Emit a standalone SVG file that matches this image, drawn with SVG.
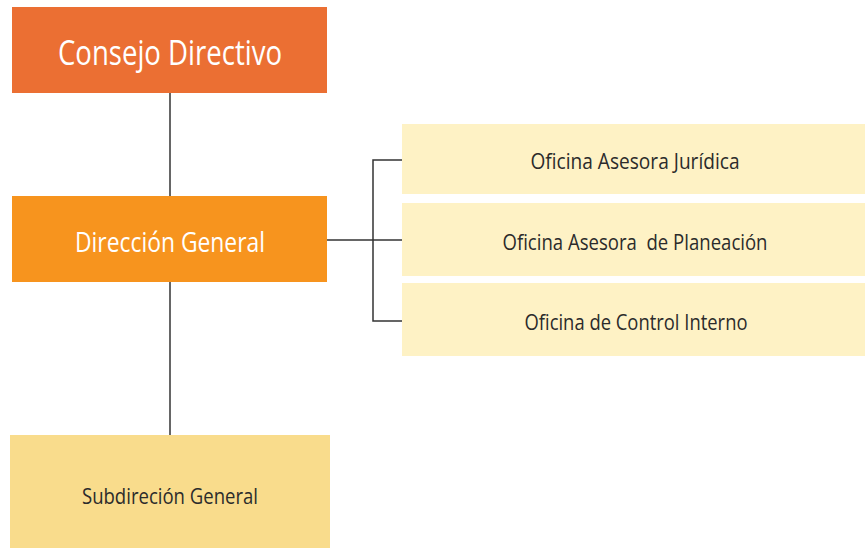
<svg xmlns="http://www.w3.org/2000/svg" width="865" height="548" viewBox="0 0 865 548">
<style>
.lbl{font-family:"Open Sans","Liberation Sans",sans-serif;text-anchor:middle}
.w{fill:#ffffff}
.d{fill:#2b2b2b}
.ln{stroke:#333333;stroke-width:1.5;fill:none}
</style>
<rect width="865" height="548" fill="#ffffff"/>
<g id="connectors">
<line class="ln" x1="170" y1="93" x2="170" y2="196"/>
<line class="ln" x1="170" y1="282" x2="170" y2="435"/>
<line class="ln" x1="327" y1="240" x2="402" y2="240"/>
<polyline class="ln" points="402,160 373,160 373,321 402,321"/>
</g>
<g id="consejo">
<rect x="12" y="7" width="315" height="86" fill="#EB6F33"/>
<text class="lbl w" x="170" y="65" font-size="35" textLength="224" lengthAdjust="spacingAndGlyphs">Consejo Directivo</text>
</g>
<g id="direccion">
<rect x="12" y="196" width="315" height="86" fill="#F7941E"/>
<text class="lbl w" x="170" y="252" font-size="28" textLength="190" lengthAdjust="spacingAndGlyphs">Dirección General</text>
</g>
<g id="juridica">
<rect x="402" y="124" width="463" height="70" fill="#FEF2C5"/>
<text class="lbl d" x="635" y="169" font-size="21" textLength="209" lengthAdjust="spacingAndGlyphs">Oficina Asesora Jurídica</text>
</g>
<g id="planeacion">
<rect x="402" y="203" width="463" height="73" fill="#FEF2C5"/>
<text class="lbl d" x="635" y="250" font-size="21" textLength="265" lengthAdjust="spacingAndGlyphs" xml:space="preserve">Oficina Asesora  de Planeación</text>
</g>
<g id="control">
<rect x="402" y="283" width="463" height="73" fill="#FEF2C5"/>
<text class="lbl d" x="636" y="330" font-size="21" textLength="223" lengthAdjust="spacingAndGlyphs">Oficina de Control Interno</text>
</g>
<g id="subdireccion">
<rect x="10" y="435" width="320" height="113" fill="#F9DC8C"/>
<text class="lbl d" x="170" y="504" font-size="21" textLength="176" lengthAdjust="spacingAndGlyphs">Subdireción General</text>
</g>
</svg>
